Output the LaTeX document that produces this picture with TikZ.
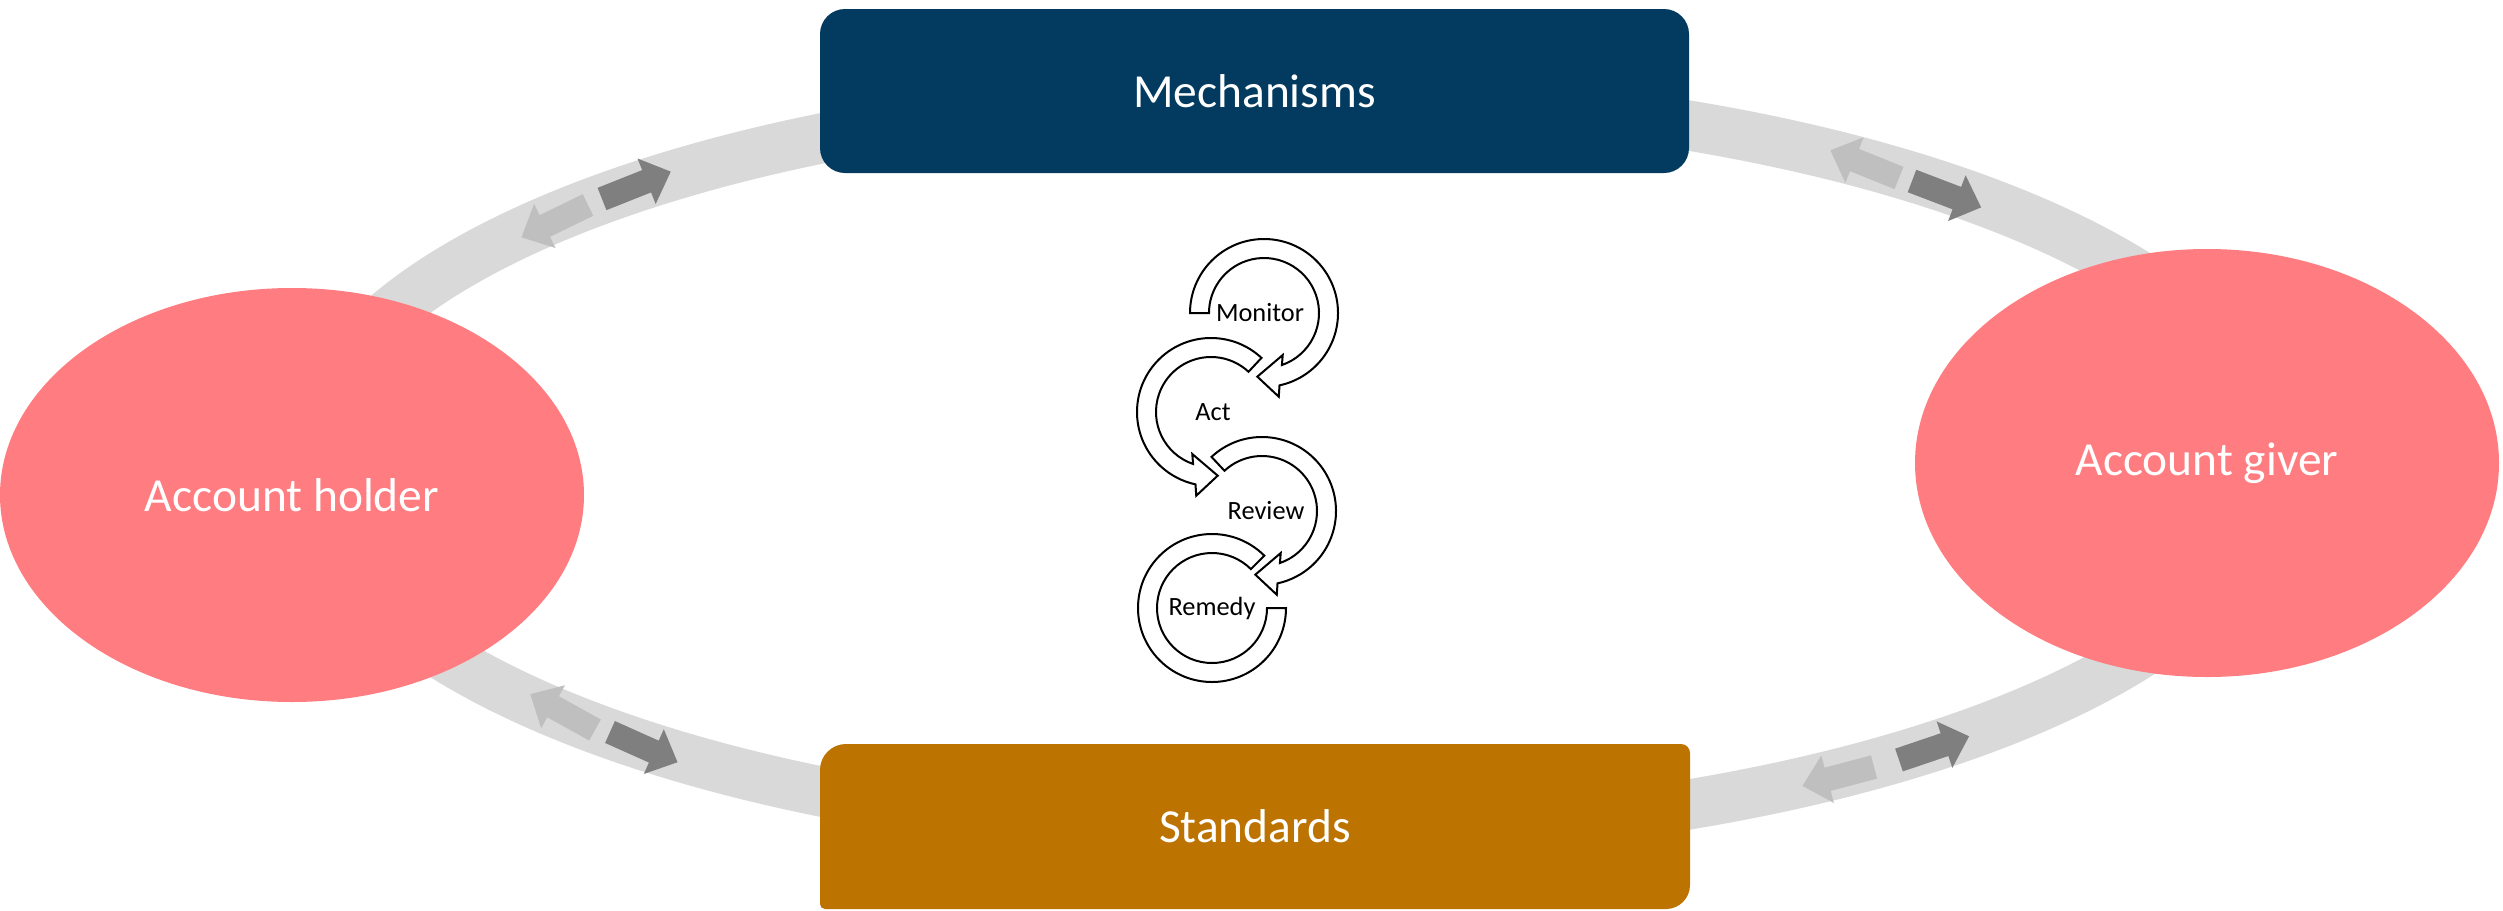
\documentclass[tikz,border=0pt]{standalone}
\usepackage{fontspec}
\setmainfont{Carlito}
\usetikzlibrary{shapes.geometric}
\definecolor{navy}{HTML}{023B5F}
\definecolor{ochre}{HTML}{BC7300}
\definecolor{coral}{HTML}{FF7C80}
\definecolor{ringgray}{HTML}{D9D9D9}
\definecolor{lightarr}{HTML}{BFBFBF}
\definecolor{darkarr}{HTML}{7F7F7F}
\newcommand\blockarr[4]{\fill[#4, shift={(#1,#2)}, rotate=#3] (0,-12) -- (48,-12) -- (48,-24.5) -- (74,0) -- (48,24.5) -- (48,12) -- (0,12) -- cycle;}
\newcommand\cwarrowpath[1]{(#1:74) arc[start angle=#1, end angle=-77.9, radius=74] -- (-80:85) -- (-96:64) -- (-66:46) -- (-71:55) arc[start angle=-71, end angle=#1, radius=55] -- cycle}
\tikzset{
  bigtext/.style={text=white, font=\fontsize{13.5pt}{16pt}\selectfont, inner sep=0pt},
  smalltext/.style={text=black, font=\fontsize{7.5pt}{9pt}\selectfont, inner sep=0pt},
  spiral/.style={draw=black, fill=white, line width=0.2mm, line join=miter},
  actor/.style={ellipse, fill=coral, inner sep=0pt, minimum width=58.4mm, bigtext}
}
\begin{document}
\begin{tikzpicture}[x=0.1mm, y=0.1mm]
\useasboundingbox (0,0) rectangle (2503,910);
\fill[white] (0,0) rectangle (2503,910);
% ring
\draw[ringgray, line width=5mm] (1290,445) ellipse [x radius=987, y radius=371];
% arrows on ring
\blockarr{588}{705}{205.9}{lightarr}
\blockarr{602}{711}{21.7}{darkarr}
\blockarr{1899}{732}{158}{lightarr}
\blockarr{1912}{729}{-20.9}{darkarr}
\blockarr{595}{180}{151}{lightarr}
\blockarr{610}{178}{-24.1}{darkarr}
\blockarr{1874}{143}{194.8}{lightarr}
\blockarr{1899}{150}{18.7}{darkarr}
% boxes
\node[fill=navy, rounded corners=2.5mm, minimum width=86.9mm, minimum height=16.4mm, bigtext] (mech) at (1254.5,819) {Mechanisms};
\fill[ochre] (846,166) -- (1681,166) arc[start angle=90, end angle=0, radius=9] -- (1690,25) arc[start angle=0, end angle=-90, radius=24] -- (825,1) arc[start angle=270, end angle=180, radius=5] -- (820,140) arc[start angle=180, end angle=90, radius=26] -- cycle;
\node[bigtext] (std) at (1255,83.5) {Standards};
% actors
\node[actor, minimum height=41.4mm] (holder) at (292,415) {Account holder};
\node[actor, minimum height=42.8mm] (giver) at (2207,447) {Account giver};
% spiral of circular arrows
\begin{scope}[shift={(1264,597)}]
  \path[spiral] \cwarrowpath{180};
\end{scope}
\begin{scope}[shift={(1211,498)}, xscale=-1]
  \path[spiral] \cwarrowpath{133};
\end{scope}
\begin{scope}[shift={(1262,399)}]
  \path[spiral] \cwarrowpath{133};
\end{scope}
\begin{scope}[shift={(1212,302)}]
  \path[spiral] (45:74) arc[start angle=45, end angle=360, radius=74] -- (0:55) arc[start angle=360, end angle=45, radius=55] -- cycle;
\end{scope}
\node[smalltext] (monitor) at (1260,597) {Monitor};
\node[smalltext] (act) at (1213,498) {Act};
\node[smalltext] (review) at (1266,399) {Review};
\node[smalltext] (remedy) at (1212,302) {Remedy};
\end{tikzpicture}
\end{document}
